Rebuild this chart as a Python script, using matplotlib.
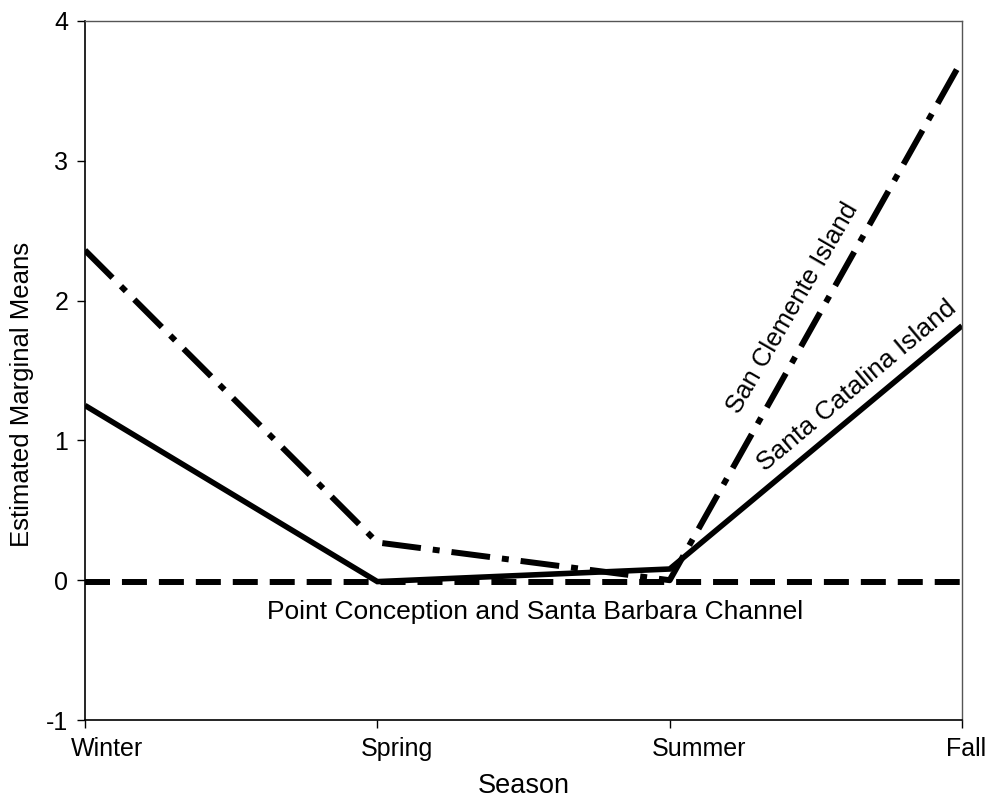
import matplotlib
matplotlib.use("Agg")
import matplotlib.pyplot as plt
import matplotlib.transforms as mtransforms

# Data
seasons = ["Winter", "Spring", "Summer", "Fall"]
san_clemente = [2.36, 0.27, 0.0, 3.72]
santa_catalina = [1.25, -0.01, 0.08, 1.82]
point_conception = [-0.01, -0.01, -0.01, -0.01]


def main():
    plt.rcParams["font.family"] = ["Liberation Sans", "DejaVu Sans"]
    plt.rcParams["lines.scale_dashes"] = False

    fig = plt.figure(figsize=(9.9, 7.99), dpi=100)
    ax = fig.add_axes([85 / 990, 79 / 799, 877 / 990, 699 / 799])

    x = list(range(len(seasons)))
    ax.plot(x, point_conception, color="black", lw=4.3, dashes=(18, 8.6),
            dash_capstyle="butt", solid_capstyle="butt")
    ax.plot(x, santa_catalina, color="black", lw=4.0, solid_capstyle="butt",
            solid_joinstyle="miter")
    ax.plot(x, san_clemente, color="black", lw=4.3, dashes=(28, 8.6, 5, 8.6),
            dash_capstyle="butt")

    # in-plot labels
    ax.text(2.42, 1.95, "San Clemente Island", rotation=60, fontsize=18.5,
            ha="center", va="center", rotation_mode="anchor")
    ax.text(2.64, 1.39, "Santa Catalina Island", rotation=40, fontsize=19,
            ha="center", va="center", rotation_mode="anchor")
    ax.text(1.54, -0.23, "Point Conception and Santa Barbara Channel",
            fontsize=19, ha="center", va="center")

    ax.set_xlim(0, 3)
    ax.set_ylim(-1, 4)
    ax.set_yticks([-1, 0, 1, 2, 3, 4])
    ax.set_yticklabels(["-1", "0", "1", "2", "3", "4"])
    ax.set_xticks(x)
    ax.set_xticklabels(seasons)

    ax.tick_params(axis="both", direction="out", length=6, width=1,
                   labelsize=18, pad=6, colors="black")
    ax.tick_params(axis="y", left=True, right=False)
    ax.tick_params(axis="x", bottom=True, top=False)

    # x tick labels sit a bit right of their ticks in the original (pixels)
    shifts = [22, 20, 29, 4]
    for lab, dx in zip(ax.get_xticklabels(), shifts):
        lab.set_transform(lab.get_transform() +
                          mtransforms.ScaledTranslation(dx / 100, 0, fig.dpi_scale_trans))

    ax.set_xlabel("Season", fontsize=19.5, labelpad=9)
    ax.set_ylabel("Estimated Marginal Means", fontsize=18.5)
    ax.yaxis.set_label_coords(-0.058, 0.466)

    for side in ["left", "bottom"]:
        ax.spines[side].set_color("black")
        ax.spines[side].set_linewidth(1.2)
    for side in ["top", "right"]:
        ax.spines[side].set_color("#555555")
        ax.spines[side].set_linewidth(1.0)

    fig.savefig("out.png", dpi=100)


if __name__ == "__main__":
    main()
